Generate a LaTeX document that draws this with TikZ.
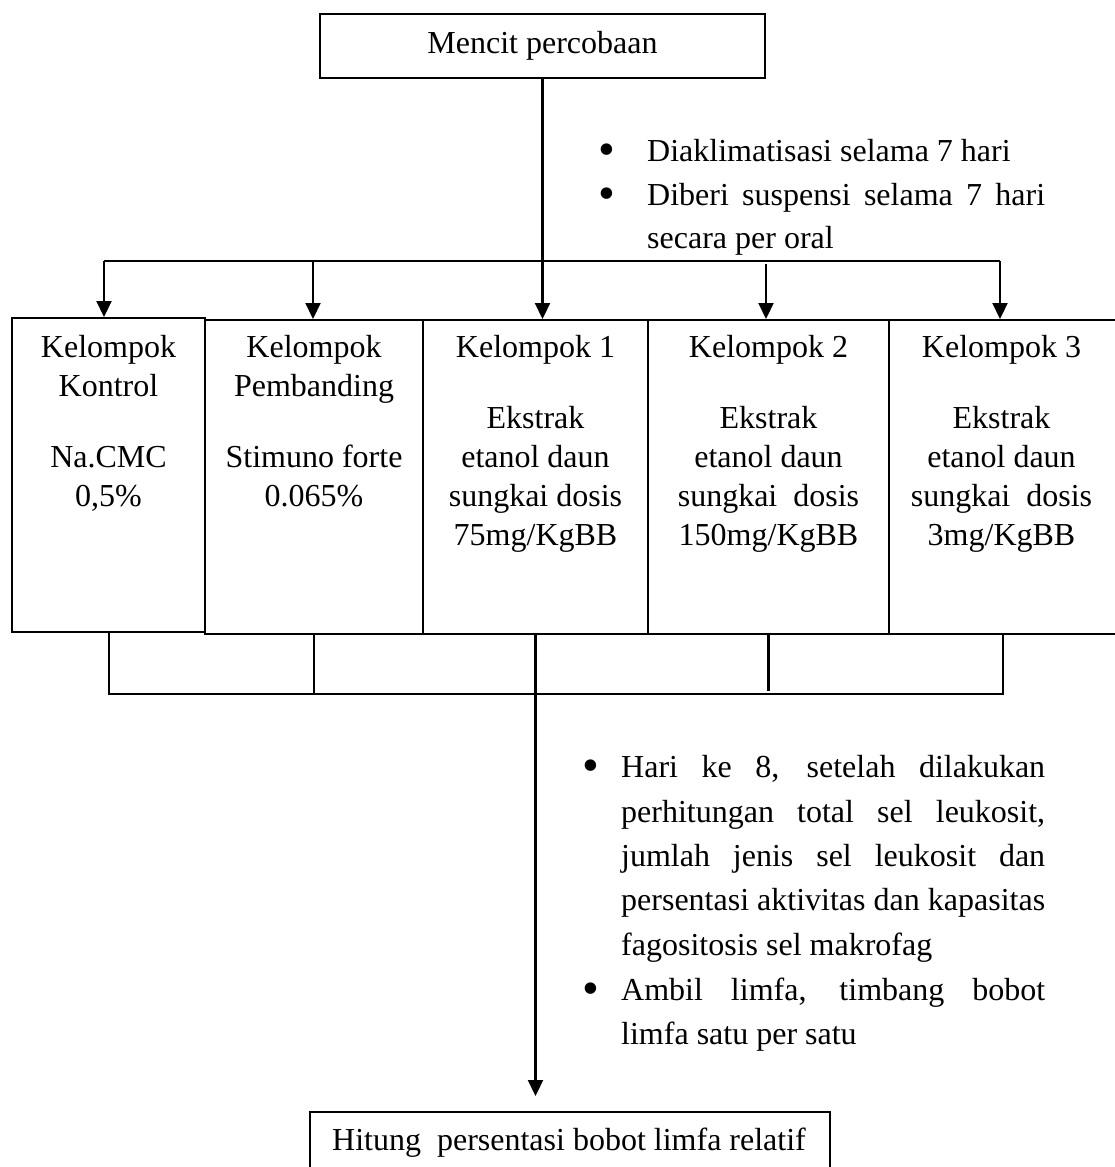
\documentclass[tikz,border=0pt]{standalone}
\usepackage{fontspec}
\setmainfont{Liberation Serif}
\usetikzlibrary{arrows.meta}
\begin{document}
\begin{tikzpicture}[x=1pt,y=-1pt,
  box/.style={draw, line width=2pt, inner sep=0pt},
  txt/.style={inner sep=0pt, font=\fontsize{32}{39}\selectfont},
  lbl/.style={txt, align=center, anchor=north},
  bul/.style={inner sep=0pt, anchor=center, font=\fontsize{48}{48}\selectfont},
  conn/.style={line width=2.2pt},
  arr/.style={line width=2.2pt, -{Triangle[width=15pt,length=16pt]}},
]
\useasboundingbox (0,0) rectangle (1114,1167);

% top box
\node[box, txt, minimum width=445pt, minimum height=64pt] (mencit) at (542.5,46) {Mencit percobaan};

% group boxes
\node[box, minimum width=193pt, minimum height=314pt] (k1) at (108.5,475) {};
\node[box, minimum width=218pt, minimum height=314pt] (k2) at (314,477) {};
\node[box, minimum width=225pt, minimum height=314pt] (k3) at (535.5,477) {};
\node[box, minimum width=241pt, minimum height=314pt] (k4) at (768.5,477) {};
\node[box, minimum width=227pt, minimum height=314pt] (k5) at (1002.5,477) {};

\node[lbl] (l1) at (108.5,335) {Kelompok\\Kontrol\\[32pt]Na.CMC\\0,5\%};
\node[lbl] (l2) at (314,335) {Kelompok\\Pembanding\\[32pt]Stimuno forte\\0.065\%};
\node[lbl] (l3) at (535.5,335) {Kelompok 1\\[32pt]Ekstrak\\etanol daun\\sungkai dosis\\75mg/KgBB};
\node[lbl] (l4) at (768.5,335) {Kelompok 2\\[32pt]Ekstrak\\etanol daun\\sungkai\ \ dosis\\150mg/KgBB};
\node[lbl] (l5) at (1001.5,335) {Kelompok 3\\[32pt]Ekstrak\\etanol daun\\sungkai\ \ dosis\\3mg/KgBB};

% bottom box
\node[box, minimum width=520pt, minimum height=90pt, anchor=north] (hitung) at (570,1111) {};
\node[txt, anchor=base] (ht) at (569,1150) {Hitung\ \ persentasi bobot limfa relatif};

% top bullets
\node[bul] (b1) at (607,155) {\textbullet};
\node[txt, anchor=base west] (t1) at (647,161) {Diaklimatisasi selama 7 hari};
\node[bul] (b2) at (607,199) {\textbullet};
\node[txt, anchor=base west] (t2) at (647,205) {\makebox[398pt][s]{Diberi suspensi selama 7 hari}};
\node[txt, anchor=base west] (t3) at (647,248) {secara per oral};

% bottom bullets
\node[bul] (b3) at (591,771) {\textbullet};
\node[txt, anchor=base west] (u1) at (621,777) {\makebox[424pt][s]{Hari ke 8, setelah dilakukan}};
\node[txt, anchor=base west] (u2) at (621,822) {\makebox[424pt][s]{perhitungan total sel leukosit,}};
\node[txt, anchor=base west] (u3) at (621,866) {\makebox[424pt][s]{jumlah jenis sel leukosit dan}};
\node[txt, anchor=base west] (u4) at (621,910) {\makebox[424pt][s]{persentasi aktivitas dan kapasitas}};
\node[txt, anchor=base west] (u5) at (621,955) {fagositosis sel makrofag};
\node[bul] (b4) at (591,994) {\textbullet};
\node[txt, anchor=base west] (u6) at (621,1000) {\makebox[424pt][s]{Ambil limfa, timbang bobot}};
\node[txt, anchor=base west] (u7) at (621,1044) {limfa satu per satu};

% distribution
\coordinate (hl) at (104,261);
\coordinate (hr) at (1000,261);
\coordinate (h2) at (313,261);
\coordinate (h4) at (766,264);
\draw[conn] (hl) -- (hr);
\draw[arr] (mencit.south) -- (mencit.south |- k3.north);
\draw[arr] (hl) -- (hl |- k1.north);
\draw[arr] (h2) -- (h2 |- k2.north);
\draw[arr] (h4) -- (h4 |- k4.north);
\draw[arr] (hr) -- (hr |- k5.north);

% collection
\coordinate (bl) at (109,694);
\coordinate (br) at (1003,694);
\draw[conn] (bl |- k1.south) -- (bl) -- (br) -- (br |- k5.south);
\draw[conn] (k2.south) -- (k2.south |- bl);
\draw[conn] (k4.south) -- ([yshift=3pt]k4.south |- bl);
\draw[arr] (k3.south) -- ([yshift=15pt]k3.south |- hitung.north);
\end{tikzpicture}
\end{document}
